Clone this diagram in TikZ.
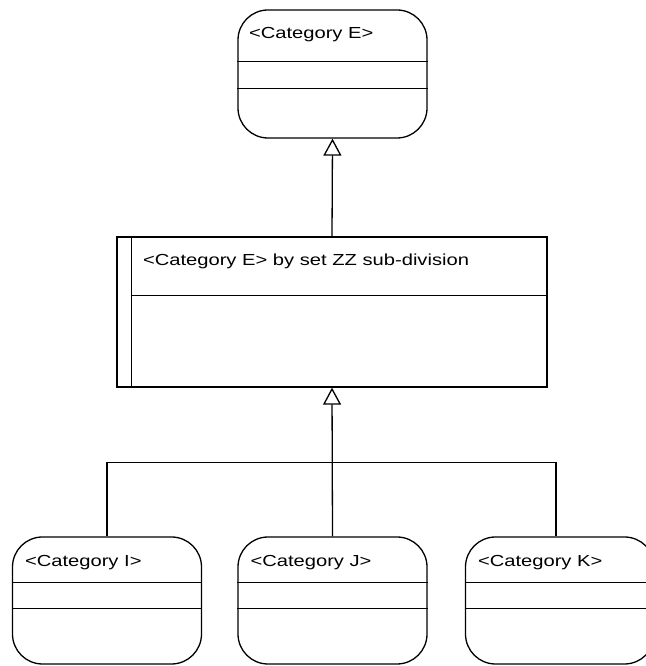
\documentclass[tikz,border=0pt]{standalone}
\usepackage{fontspec}
\setmainfont[FakeStretch=1.26]{Liberation Sans}
\usetikzlibrary{arrows.meta,calc}
\begin{document}
\begin{tikzpicture}[x=1pt,y=1pt,
  line width=1.3pt,
  roundbox/.style={draw, rounded corners=30pt, inner sep=0pt, minimum width=189pt, minimum height=127pt},
  flatbox/.style={draw, inner sep=0pt},
  lbl/.style={anchor=base west, inner sep=0pt, font=\fontsize{16}{19}\selectfont},
  gen/.style={-{Triangle[open,length=17pt,width=18pt]}},
]
\useasboundingbox (0,0) rectangle (645,666);

% superclass
\node[roundbox, minimum height=128pt] (E) at (332.5,592) {};
\draw ($(E.north west)+(0,-52)$) -- ($(E.north east)+(0,-52)$);
\draw ($(E.north west)+(0,-79)$) -- ($(E.north east)+(0,-79)$);
\node[lbl] (Et) at ($(E.north west)+(11,-29.5)$) {<Category E>};

% sub-division set
\node[flatbox, minimum width=430pt, minimum height=150pt] (M) at (332,354) {};
\draw ($(M.north west)+(15,0)$) -- ($(M.south west)+(15,0)$);
\draw ($(M.north west)+(15,-59)$) -- ($(M.north east)+(0,-59)$);
\node[lbl] (Mt) at ($(M.north west)+(26,-29)$) {<Category E> by set ZZ sub-division};

% subclasses
\foreach \nm/\cx/\txt in {I/107/{<Category I>}, J/332.5/{<Category J>}, K/560/{<Category K>}}{
  \node[roundbox] (\nm) at (\cx,65.5) {};
  \draw ($(\nm.north west)+(0,-46)$) -- ($(\nm.north east)+(0,-46)$);
  \draw ($(\nm.north west)+(0,-72)$) -- ($(\nm.north east)+(0,-72)$);
  \node[lbl] (\nm t) at ($(\nm.north west)+(12.5,-30.5)$) {\txt};
}

% generalisation connectors
\draw[gen] (M.north) -- (E.south);
\coordinate (hub) at ($(M.south)+(0,-75)$);
\draw (I.north) |- (hub);
\draw ($(K.north)+(-4,0)$) |- (hub);
\draw[gen] (J.north) -- (M.south);
\end{tikzpicture}
\end{document}
